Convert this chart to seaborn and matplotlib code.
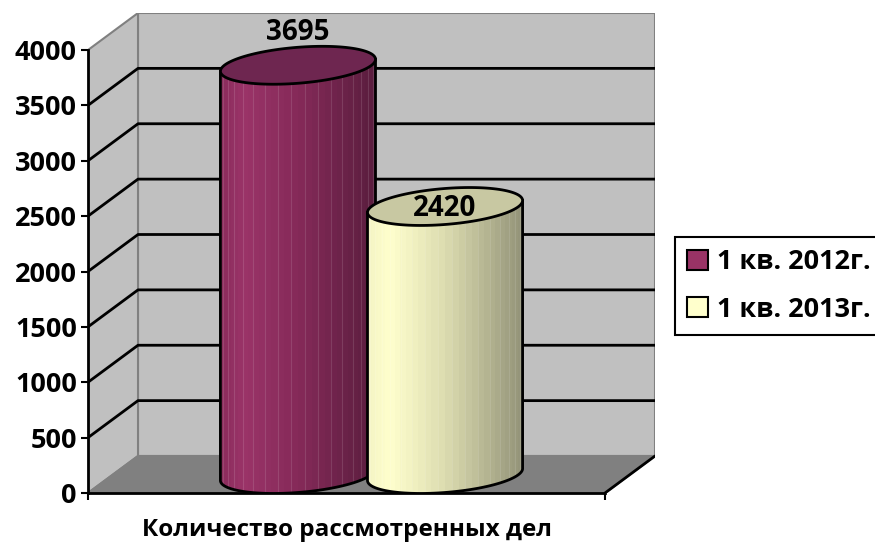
import numpy as np
import pandas as pd
import matplotlib
matplotlib.use("Agg")
import matplotlib.pyplot as plt
from matplotlib.colors import LinearSegmentedColormap
from matplotlib.patches import Polygon, Rectangle
import seaborn as sns


# data
CATEGORY = ["Количество рассмотренных дел"]
PERIODS = ["1 кв. 2012г.", "1 кв. 2013г."]
VALUES = [3695, 2420]
Y_TICKS = [0, 500, 1000, 1500, 2000, 2500, 3000, 3500, 4000]

# styles
COLORS = ["#993366", "#ffffcc"]
TOP_COLORS = ["#6e2650", "#c8c8a2"]
SHADE_STOPS = [
    [(0.0, "#8a2c5c"), (0.15, "#9b3468"), (0.5, "#852a59"), (1.0, "#5a1d3e")],
    [(0.0, "#f4f4c4"), (0.15, "#ffffcd"), (0.5, "#dcdcb0"), (1.0, "#939378")],
]
LABEL_OFFSETS_PX = [33, -2]
WALL = "#c0c0c0"
FLOOR = "#808080"
EDGE = "#808080"

# layout in pixels (figure 875x546)
FIG_W, FIG_H, DPI = 875, 546, 100
AX_L, AX_R, AX_T, AX_B = 88, 655, 13, 493
FRONT_PX = 517          # width of the front floor edge
Y_TOP_PX = 443          # 0 -> 4000 on the front plane
DEPTH_X_PX, DEPTH_Y_PX = 50, 37

y_max = Y_TICKS[-1]
y_per_px = y_max / Y_TOP_PX
DX = DEPTH_X_PX / FRONT_PX
DY = DEPTH_Y_PX * y_per_px

sns.set_style("white")
plt.rcParams["font.family"] = ["Open Sans", "DejaVu Sans"]
plt.rcParams["font.weight"] = "bold"
plt.rcParams["text.color"] = "black"
plt.rcParams["axes.labelcolor"] = "black"
plt.rcParams["xtick.color"] = "black"
plt.rcParams["ytick.color"] = "black"

fig = plt.figure(figsize=(FIG_W / DPI, FIG_H / DPI), dpi=DPI)
ax = fig.add_axes([AX_L / FIG_W, (FIG_H - AX_B) / FIG_H,
                   (AX_R - AX_L) / FIG_W, (AX_B - AX_T) / FIG_H])
ax.patch.set_visible(False)

df = pd.DataFrame({"category": CATEGORY * len(PERIODS), "period": PERIODS, "value": VALUES})
sns.barplot(data=df, x="category", y="value", hue="period", palette=COLORS,
            width=0.569, saturation=1, legend=False, ax=ax)

xlim = (-0.5, 0.5 + DX)
ylim = (0, y_max + DY)

# walls and floor
ax.add_patch(Rectangle((-0.5 + DX, DY), 1, y_max, fc=WALL, ec=EDGE, lw=1.5, zorder=0.5))
ax.add_patch(Polygon([(-0.5, 0), (-0.5 + DX, DY), (-0.5 + DX, y_max + DY), (-0.5, y_max)],
                     closed=True, fc=WALL, ec=EDGE, lw=1.5, zorder=0.5))
ax.add_patch(Polygon([(-0.5, 0), (0.5, 0), (0.5 + DX, DY), (-0.5 + DX, DY)],
                     closed=True, fc=FLOOR, ec=EDGE, lw=1.5, zorder=0.5))
for t in Y_TICKS[1:-1]:
    ax.plot([-0.5, -0.5 + DX, 0.5 + DX], [t, t + DY, t + DY], color="black", lw=2, zorder=0.6)
ax.plot([0.5, 0.5 + DX], [0, DY], color="black", lw=2, zorder=0.6)

# cylinders
BAR_W = 0.30
ell_b = 18 * y_per_px
shear = 0.077 * FRONT_PX * y_per_px
N_FACETS = 36


def ellipse_pts(cx, cy, a, t0, t1, n=120):
    t = np.linspace(t0, t1, n)
    return np.column_stack([cx + a * np.cos(t), cy + ell_b * np.sin(t) + shear * a * np.cos(t)])


for i, (container, value) in enumerate(zip(ax.containers, VALUES)):
    bar = container[0]
    bar.set_visible(False)
    cx = bar.get_x() + bar.get_width() / 2 + DX / 2
    a = BAR_W / 2
    y_bot = DY / 2
    y_top = bar.get_height() + DY / 2
    z = 2 + i

    bottom = ellipse_pts(cx, y_bot, a, 0, -np.pi)
    body_pts = np.vstack([bottom, [(cx - a, y_top - shear * a), (cx + a, y_top + shear * a)]])
    body = Polygon(body_pts, closed=True, fc="none", ec="black", lw=2, zorder=z + 0.2)
    ax.add_patch(body)

    cmap = LinearSegmentedColormap.from_list(f"shade{i}", SHADE_STOPS[i])
    u = np.linspace(-1, 1, 600)
    theta = np.arccos(-u)
    facet = np.clip(np.floor(theta / np.pi * N_FACETS), 0, N_FACETS - 1)
    pos = (1 - np.cos((facet + 0.5) / N_FACETS * np.pi)) / 2
    img = cmap(pos)[np.newaxis, :, :3]
    im = ax.imshow(img, extent=[cx - a, cx + a, 0, y_top + 2 * ell_b], aspect="auto",
                   origin="lower", interpolation="nearest", zorder=z)
    im.set_clip_path(body)

    edges = cx - a * np.cos(np.arange(1, N_FACETS) / N_FACETS * np.pi)
    stripes = ax.vlines(edges[::2], 0, y_top, color="white", alpha=0.12, lw=0.8, zorder=z + 0.1)
    stripes.set_clip_path(body)

    top = Polygon(ellipse_pts(cx, y_top, a, 0, 2 * np.pi), closed=True,
                  fc=TOP_COLORS[i], ec="black", lw=2, zorder=z + 0.3)
    ax.add_patch(top)

    ax.annotate(f"{value}", xy=(cx, y_top), xytext=(0, LABEL_OFFSETS_PX[i] * 0.72),
                textcoords="offset points", ha="center", va="center",
                fontsize=20, fontweight="bold", zorder=10)

ax.set_xlim(xlim)
ax.set_ylim(ylim)

# axes
for side in ["top", "right"]:
    ax.spines[side].set_visible(False)
ax.spines["left"].set_bounds(0, y_max)
ax.spines["bottom"].set_bounds(-0.5, 0.5)
for side in ["left", "bottom"]:
    ax.spines[side].set_color("black")
    ax.spines[side].set_linewidth(2)
    ax.spines[side].set_zorder(1)

ax.set_yticks(Y_TICKS)
ax.set_yticklabels([str(t) for t in Y_TICKS], fontsize=19.5, fontweight="bold")
ax.set_xticks([-0.5, 0.5])
ax.set_xticklabels(["", ""])
ax.tick_params(axis="both", direction="out", length=5, width=1.5, color="black", pad=3, left=True, bottom=True)

ax.set_xlabel(CATEGORY[0], fontsize=17.5, fontweight="bold")
ax.xaxis.set_label_coords(0.5 / (xlim[1] - xlim[0]), -0.053)
ax.set_ylabel("")

handles = [Rectangle((0, 0), 1, 1, fc=c, ec="black", lw=1.5) for c in COLORS]
leg = fig.legend(handles, PERIODS, loc="upper left", bbox_to_anchor=(675 / FIG_W, 1 - 237 / FIG_H),
                 frameon=True, fancybox=False, edgecolor="black", framealpha=1,
                 prop={"size": 19.5, "weight": "bold"}, handlelength=0.75, handleheight=0.75,
                 handletextpad=0.35, labelspacing=0.8, borderpad=0.45, borderaxespad=0)
leg.get_frame().set_linewidth(1.5)

fig.savefig("out.png", dpi=DPI)
